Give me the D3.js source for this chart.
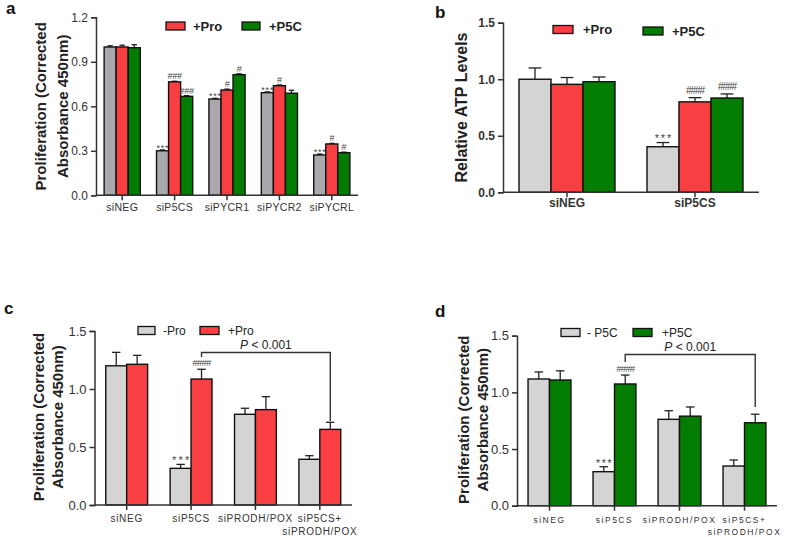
<!DOCTYPE html>
<html><head><meta charset="utf-8">
<script src="https://cdn.jsdelivr.net/npm/d3@7"></script>
<style>body{margin:0;background:#fff}svg{font-family:"Liberation Sans",Arial,sans-serif}</style>
</head><body><svg id="c" width="787" height="537"></svg>
<script>
// ---------- DATA ----------
const aCategories = ["siNEG","siP5CS","siPYCR1","siPYCR2","siPYCRL"];
const aCtrl = [1.0, 0.30, 0.649, 0.692, 0.272];
const aCtrlErr = [0.008, 0.006, 0.005, 0.005, 0.006];
const aPro = [1.0, 0.765, 0.71, 0.739, 0.346];
const aProErr = [0.012, 0.004, 0.006, 0.005, 0.004];
const aP5C = [0.995, 0.667, 0.813, 0.688, 0.287];
const aP5CErr = [0.02, 0.005, 0.006, 0.02, 0.004];
const aCtrlNote = ["", "***", "***", "***", "***"];
const aProNote = ["", "###", "#", "#", "#"];
const aP5CNote = ["", "###", "#", "", "#"];
const aTicks = [0.0, 0.3, 0.6, 0.9, 1.2];

const bCategories = ["siNEG","siP5CS"];
const bCtrl = [1.0, 0.403];
const bCtrlErr = [0.1, 0.037];
const bPro = [0.955, 0.80];
const bProErr = [0.06, 0.037];
const bP5C = [0.978, 0.834];
const bP5CErr = [0.042, 0.036];
const bCtrlNote = ["", "***"];
const bProNote = ["", "####"];
const bP5CNote = ["", "####"];
const bTicks = [0.0, 0.5, 1.0, 1.5];

const cCategories = [["siNEG"],["siP5CS"],["siPRODH/POX"],["siP5CS+","siPRODH/POX"]];
const cMinus = [1.20, 0.316, 0.782, 0.394];
const cMinusErr = [0.116, 0.034, 0.052, 0.031];
const cPlus = [1.213, 1.086, 0.822, 0.652];
const cPlusErr = [0.077, 0.084, 0.112, 0.061];
const cMinusNote = ["", "***", "", ""];
const cPlusNote = ["", "####", "", ""];
const cTicks = [0.0, 0.5, 1.0, 1.5];

const dCategories = [["siNEG"],["siP5CS"],["siPRODH/POX"],["siP5CS+","siPRODH/POX"]];
const dMinus = [1.118, 0.30, 0.762, 0.35];
const dMinusErr = [0.062, 0.044, 0.076, 0.053];
const dPlus = [1.109, 1.074, 0.79, 0.732];
const dPlusErr = [0.081, 0.079, 0.081, 0.075];
const dMinusNote = ["", "***", "", ""];
const dPlusNote = ["", "####", "", ""];
const dTicks = [0.0, 0.5, 1.0, 1.5];

const GRAY_A = "#a9a9ad", GRAY = "#d4d4d4", RED = "#f93f42", GREEN = "#027d02";
const svg = d3.select("#c");

function panel(o){
  const g = svg.append("g");
  const x = d3.scaleBand().domain(d3.range(o.cats.length)).range([o.x0, o.x1])
    .paddingInner(o.pad).paddingOuter(o.pad/2);
  const sub = d3.scaleBand().domain(d3.range(o.series.length)).range([0, x.bandwidth()]);
  const y = d3.scaleLinear().domain([0, o.ymax]).range([o.y0, o.y1]);
  const bw = sub.bandwidth(), cap = bw*o.capF;
  o.series.forEach((s, si) => {
    s.vals.forEach((v, i) => {
      const bx = x(i) + sub(si), cx = bx + bw/2;
      const et = y(v + s.err[i]);
      g.append("line").attr("x1", cx).attr("x2", cx).attr("y1", y(v)).attr("y2", et)
        .attr("stroke", "#222").attr("stroke-width", 1.3);
      g.append("line").attr("x1", cx-cap/2).attr("x2", cx+cap/2).attr("y1", et).attr("y2", et)
        .attr("stroke", "#222").attr("stroke-width", 1.3);
      g.append("rect").attr("x", bx).attr("y", y(v)).attr("width", bw).attr("height", y(0)-y(v))
        .attr("fill", s.color).attr("stroke", "#111").attr("stroke-width", 1.4);
      const n = s.note[i];
      if (n) {
        const star = n.includes("*");
        g.append("text").attr("x", cx + (star ? o.starLS/2 : 0)).attr("y", et - o.noteGap + (star ? 3 : 0))
          .attr("text-anchor", "middle")
          .attr("font-size", star ? o.starSize : o.noteSize)
          .attr("letter-spacing", star ? o.starLS : o.noteLS).attr("fill", "#444").text(n);
      }
    });
  });
  // y axis
  const ya = g.append("g").attr("transform", `translate(${o.x0},0)`)
    .call(d3.axisLeft(y).tickValues(o.ticks).tickFormat(d3.format(".1f")).tickSizeOuter(0).tickSize(5));
  ya.select(".domain").attr("stroke", "#333").attr("stroke-width", 1.5);
  ya.selectAll(".tick line").attr("stroke", "#333").attr("stroke-width", 1.5);
  ya.selectAll("text").attr("font-size", o.tickSize).attr("font-weight", o.tickBold ? "bold" : "normal")
    .attr("fill", "#333").attr("font-family", "Liberation Sans, Arial, sans-serif");
  // x axis
  const xa = g.append("g").attr("transform", `translate(0,${o.y0})`);
  xa.append("line").attr("x1", o.x0).attr("x2", o.x1).attr("stroke", "#333").attr("stroke-width", 1.5);
  o.cats.forEach((c, i) => {
    const cx = x(i) + x.bandwidth()/2;
    xa.append("line").attr("x1", cx).attr("x2", cx).attr("y1", 0).attr("y2", 5).attr("stroke", "#333").attr("stroke-width", 1.5);
    const lines = Array.isArray(c) ? c : [c];
    lines.forEach((t, li) => {
      xa.append("text").attr("x", cx).attr("y", o.catDy + li*o.catLine).attr("text-anchor", "middle")
        .attr("font-size", o.catSize).attr("font-weight", o.catBold ? "bold" : "normal")
        .attr("letter-spacing", o.catLS).attr("fill", "#333").text(t);
    });
  });
  // y label
  o.ylabel.forEach((t, li) => {
    g.append("text").attr("transform", `translate(${o.ylx[li]},${(o.y0+o.y1)/2 + o.yly}) rotate(-90)`)
      .attr("text-anchor", "middle").attr("font-size", o.ylSize).attr("font-weight", "bold")
      .attr("fill", "#222").text(t);
  });
  // panel letter
  g.append("text").attr("x", o.lx).attr("y", o.ly).attr("font-size", 17).attr("font-weight", "bold")
    .attr("fill", "#111").text(o.letter);
  // legend
  o.legend.forEach(l => {
    g.append("rect").attr("x", l.x).attr("y", l.y - 4).attr("width", l.w).attr("height", 8)
      .attr("fill", l.color).attr("stroke", "#111").attr("stroke-width", 1.3);
    g.append("text").attr("x", l.x + l.w + l.gap).attr("y", l.y + 4.5).attr("font-size", o.legSize)
      .attr("font-weight", o.legBold ? "bold" : "normal").attr("fill", "#222").text(l.label);
  });
  // bracket
  if (o.bracket) {
    const b = o.bracket;
    const xl = x(b.from[0]) + sub(b.from[1]) + bw/2, xr = x(b.to[0]) + sub(b.to[1]) + bw/2;
    g.append("path").attr("d", `M${xl},${b.yl}V${b.y}H${xr}V${b.yr}`).attr("fill", "none")
      .attr("stroke", "#333").attr("stroke-width", 1.4);
    const t = g.append("text").attr("x", (xl+xr)/2).attr("y", b.y - 4).attr("text-anchor", "middle")
      .attr("font-size", 12).attr("fill", "#222");
    t.append("tspan").attr("font-style", "italic").text("P");
    t.append("tspan").text(" < 0.001");
  }
  return {x, y};
}

// Panel a
panel({
  cats: aCategories, x0: 96, x1: 358, y0: 195.3, y1: 17.3, ymax: 1.2, pad: 0.31, capF: 0.45,
  series: [
    {vals: aCtrl, err: aCtrlErr, color: GRAY_A, note: aCtrlNote},
    {vals: aPro, err: aProErr, color: RED, note: aProNote},
    {vals: aP5C, err: aP5CErr, color: GREEN, note: aP5CNote}],
  ticks: aTicks, tickSize: 12, tickBold: false, noteSize: 9, noteLS: -0.3, noteGap: 2,
  starSize: 9, starLS: 0.8,
  catDy: 16, catLine: 12, catSize: 10.5, catBold: false, catLS: 0.3,
  ylabel: ["Proliferation (Corrected", "Absorbance 450nm)"], ylx: [46, 68], yly: 0, ylSize: 15,
  letter: "a", lx: 6, ly: 14,
  legend: [{x: 166, y: 26, w: 19, gap: 8, color: RED, label: "+Pro"},
           {x: 242, y: 26, w: 18, gap: 9, color: GREEN, label: "+P5C"}],
  legSize: 13, legBold: true
});

// Panel b
panel({
  cats: bCategories, x0: 503, x1: 759, y0: 192.3, y1: 22.7, ymax: 1.5, pad: 0.25, capF: 0.4,
  series: [
    {vals: bCtrl, err: bCtrlErr, color: GRAY, note: bCtrlNote},
    {vals: bPro, err: bProErr, color: RED, note: bProNote},
    {vals: bP5C, err: bP5CErr, color: GREEN, note: bP5CNote}],
  ticks: bTicks, tickSize: 12, tickBold: true, noteSize: 10, noteLS: -1, noteGap: 4,
  starSize: 11, starLS: 1.8,
  catDy: 15, catLine: 12, catSize: 12, catBold: true, catLS: 0,
  ylabel: ["Relative ATP Levels"], ylx: [467], yly: 0, ylSize: 16,
  letter: "b", lx: 435, ly: 18,
  legend: [{x: 553, y: 29.5, w: 20, gap: 10, color: RED, label: "+Pro"},
           {x: 643, y: 31, w: 20, gap: 9, color: GREEN, label: "+P5C"}],
  legSize: 13, legBold: true
});

// Panel c
panel({
  cats: cCategories, x0: 94.5, x1: 352, y0: 505, y1: 331, ymax: 1.5, pad: 0.35, capF: 0.4,
  series: [
    {vals: cMinus, err: cMinusErr, color: GRAY, note: cMinusNote},
    {vals: cPlus, err: cPlusErr, color: RED, note: cPlusNote}],
  ticks: cTicks, tickSize: 13, tickBold: false, noteSize: 9.5, noteLS: -0.8, noteGap: 3,
  starSize: 11, starLS: 2.2,
  catDy: 17, catLine: 13, catSize: 10, catBold: false, catLS: 0.7,
  ylabel: ["Proliferation (Corrected", "Absorbance 450nm)"], ylx: [44, 63], yly: -1, ylSize: 15,
  letter: "c", lx: 4, ly: 314,
  legend: [{x: 138, y: 330.5, w: 17, gap: 8, color: GRAY, label: "-Pro"},
           {x: 200, y: 330.5, w: 19, gap: 9, color: RED, label: "+Pro"}],
  legSize: 12, legBold: false,
  bracket: {from: [1, 1], to: [3, 1], y: 352.5, yl: 357, yr: 421}
});

// Panel d
panel({
  cats: dCategories, x0: 517, x1: 777, y0: 505.7, y1: 335.7, ymax: 1.5, pad: 0.34, capF: 0.4,
  series: [
    {vals: dMinus, err: dMinusErr, color: GRAY, note: dMinusNote},
    {vals: dPlus, err: dPlusErr, color: GREEN, note: dPlusNote}],
  ticks: dTicks, tickSize: 13, tickBold: false, noteSize: 9.5, noteLS: -0.8, noteGap: 3,
  starSize: 10.5, starLS: 1.6,
  catDy: 17, catLine: 12, catSize: 8.5, catBold: false, catLS: 1.5,
  ylabel: ["Proliferation (Corrected", "Absorbance 450nm)"], ylx: [469, 488], yly: -1, ylSize: 15,
  letter: "d", lx: 435, ly: 317,
  legend: [{x: 561, y: 332.5, w: 19, gap: 7, color: GRAY, label: "- P5C"},
           {x: 633, y: 332.5, w: 19, gap: 10, color: GREEN, label: "+P5C"}],
  legSize: 12, legBold: false,
  bracket: {from: [1, 1], to: [3, 1], y: 354.5, yl: 362, yr: 407}
});
</script></body></html>
